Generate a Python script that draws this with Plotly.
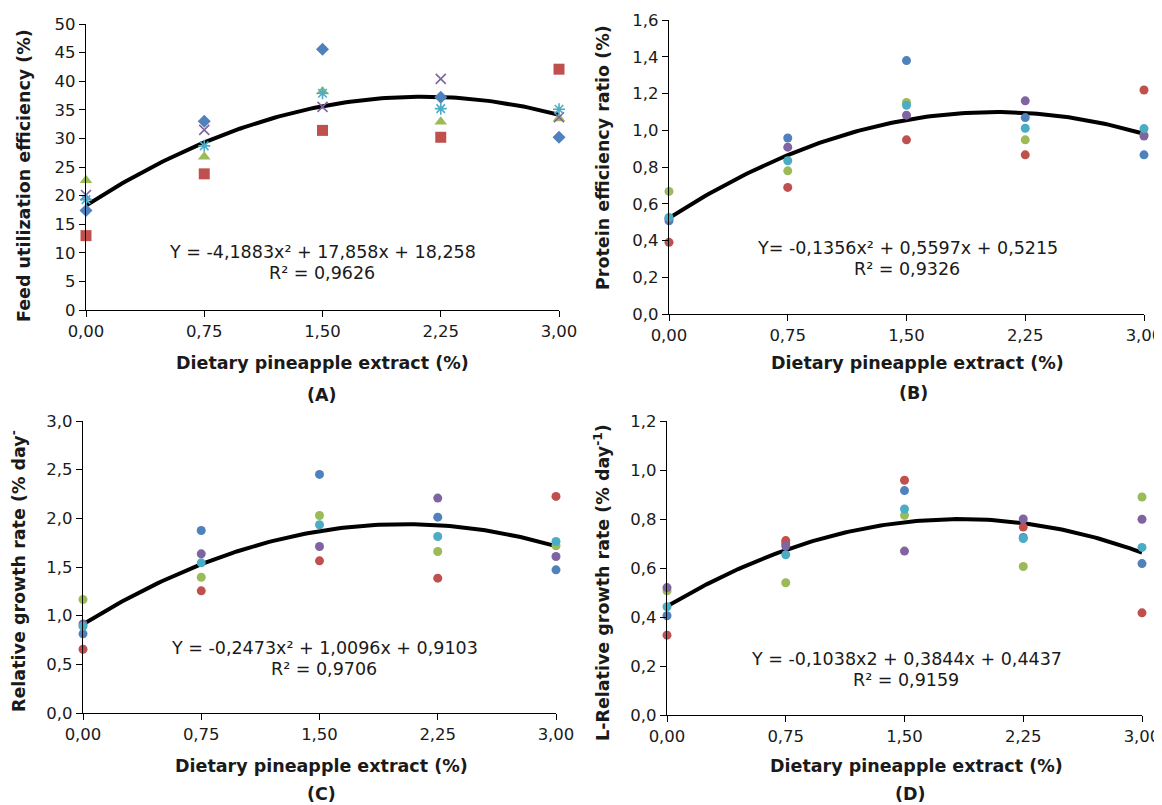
import numpy as np
import plotly.graph_objects as go

# page has an 8px body margin; the figure starts at (8, 8) in the window
PAGE_W, PAGE_H = 1162, 805
OFF = 8
W, H = PAGE_W - OFF, PAGE_H - OFF

x_levels = [0, 0.75, 1.5, 2.25, 3.0]
x_ticks = [0, 0.75, 1.5, 2.25, 3.0]
series_names = ["Rep 1", "Rep 2", "Rep 3", "Rep 4", "Rep 5"]
colors = ["#4F81BD", "#C0504D", "#9BBB59", "#8064A2", "#4BACC6"]

# Panel A: Feed utilization efficiency (%)
fue_blue = [17.4, 33.0, 45.6, 37.2, 30.2]
fue_red = [13.0, 23.8, 31.4, 30.2, 42.1]
fue_green = [22.7, 26.8, 38.2, 32.9, 33.5]
fue_purple = [20.1, 31.5, 35.5, 40.4, 33.7]
fue_cyan = [19.3, 28.7, 37.9, 35.2, 35.1]
fue_coef = [-4.1883, 17.858, 18.258]

# Panel B: Protein efficiency ratio
per_blue = [0.507, 0.958, 1.379, 1.069, 0.866]
per_red = [0.390, 0.689, 0.948, 0.866, 1.219]
per_green = [0.667, 0.779, 1.151, 0.948, 0.975]
per_purple = [0.520, 0.908, 1.082, 1.160, 0.969]
per_cyan = [0.525, 0.834, 1.136, 1.011, 1.009]
per_coef = [-0.1356, 0.5597, 0.5215]

# Panel C: Relative growth rate
rgr_blue = [0.813, 1.875, 2.451, 2.012, 1.471]
rgr_red = [0.655, 1.255, 1.563, 1.385, 2.225]
rgr_green = [1.166, 1.395, 2.029, 1.659, 1.718]
rgr_purple = [0.915, 1.635, 1.711, 2.208, 1.608]
rgr_cyan = [0.891, 1.543, 1.934, 1.813, 1.762]
rgr_coef = [-0.2473, 1.0096, 0.9103]

# Panel D: L-Relative growth rate
lrgr_blue = [0.405, 0.700, 0.916, 0.725, 0.618]
lrgr_red = [0.326, 0.712, 0.958, 0.767, 0.417]
lrgr_green = [0.507, 0.540, 0.815, 0.606, 0.890]
lrgr_purple = [0.520, 0.690, 0.669, 0.800, 0.799]
lrgr_cyan = [0.442, 0.654, 0.841, 0.720, 0.684]
lrgr_coef = [-0.1038, 0.3844, 0.4437]

def px_x(p):
    return (p - OFF) / W

def px_y(p):
    return 1 - (p - OFF) / H

panels = [
    dict(key="", series=[fue_blue, fue_red, fue_green, fue_purple, fue_cyan], coef=fue_coef,
         box=(86, 559, 24, 310), yrange=[0, 50], dtick=5, yfmt="d",
         ytitle="Feed utilization efficiency (%)", ytitle_pos=(24, 176),
         eq=["Y = -4,1883x² + 17,858x + 18,258", "R² = 0,9626"], eq_pos=(322, 252),
         xtitle_pos=(322, 363), label="(A)", label_pos=(322, 395),
         symbols=["diamond", "square", "triangle-up", "x-thin-open", "asterisk-open"],
         sizes=[10, 11, 11, 10, 10]),
    dict(key="2", series=[per_blue, per_red, per_green, per_purple, per_cyan], coef=per_coef,
         box=(669, 1144, 20, 314), yrange=[0, 1.6], dtick=0.2, yfmt=".1f",
         ytitle="Protein efficiency ratio (%)", ytitle_pos=(603, 158),
         eq=["Y= -0,1356x² + 0,5597x + 0,5215", "R² = 0,9326"], eq_pos=(907, 248),
         xtitle_pos=(917, 363), label="(B)", label_pos=(913, 393),
         symbols=["circle"] * 5, sizes=[9] * 5),
    dict(key="3", series=[rgr_blue, rgr_red, rgr_green, rgr_purple, rgr_cyan], coef=rgr_coef,
         box=(83, 556, 421, 713), yrange=[0, 3.0], dtick=0.5, yfmt=".1f",
         ytitle="Relative growth rate (% day<sup>-</sup>", ytitle_pos=(18, 571),
         eq=["Y = -0,2473x² + 1,0096x + 0,9103", "R² = 0,9706"], eq_pos=(324, 648),
         xtitle_pos=(321, 766), label="(C)", label_pos=(321, 794),
         symbols=["circle"] * 5, sizes=[9] * 5),
    dict(key="4", series=[lrgr_blue, lrgr_red, lrgr_green, lrgr_purple, lrgr_cyan], coef=lrgr_coef,
         box=(667, 1142, 421, 715), yrange=[0, 1.2], dtick=0.2, yfmt=".1f",
         ytitle="L-Relative growth rate (% day<sup>-1</sup>)", ytitle_pos=(602, 583),
         eq=["Y = -0,1038x2 + 0,3844x + 0,4437", "R² = 0,9159"], eq_pos=(906, 659),
         xtitle_pos=(916, 766), label="(D)", label_pos=(911, 794),
         symbols=["circle"] * 5, sizes=[9] * 5),
]

FONT = "DejaVu Sans"
TXT = "#1a1a1a"
TICK_SIZE = 16.5
TITLE_SIZE = 17.5
EQ_SIZE = 17.5

fig = go.Figure()
annotations = []
layout_axes = {}

def add_text(text, xp, yp, size, angle=0):
    annotations.append(dict(text=text, textangle=angle, x=px_x(xp), y=px_y(yp),
                            xref="paper", yref="paper", xanchor="center", yanchor="middle",
                            showarrow=False, font=dict(family=FONT, size=size, color=TXT)))

for p in panels:
    xa = "x" + p["key"]
    ya = "y" + p["key"]
    # trend line from the fitted equation shown on the chart
    xs = np.linspace(0, 3, 121)
    a, b, c = p["coef"]
    fig.add_trace(go.Scatter(x=xs, y=a * xs ** 2 + b * xs + c, mode="lines",
                             line=dict(color="black", width=4), xaxis=xa, yaxis=ya,
                             showlegend=False, hoverinfo="skip"))
    for i, vals in enumerate(p["series"]):
        sym = p["symbols"][i]
        is_open = sym.endswith("-open")
        fig.add_trace(go.Scatter(
            x=x_levels, y=vals, mode="markers", name=series_names[i],
            marker=dict(symbol=sym, size=p["sizes"][i], color=colors[i],
                        line=dict(width=1.6 if is_open else 0, color=colors[i])),
            xaxis=xa, yaxis=ya, showlegend=False, cliponaxis=False))
    x0, x1, y0, y1 = p["box"]
    layout_axes["xaxis" + p["key"]] = dict(
        domain=[px_x(x0), px_x(x1)], anchor=ya, range=[0, 3], tickvals=x_ticks,
        tickformat=".2f", showline=True, linecolor="black", linewidth=1.3,
        ticks="outside", ticklen=6, tickcolor="black", showgrid=False, zeroline=False,
        automargin=False, ticklabeloverflow="allow",
        tickfont=dict(family=FONT, size=TICK_SIZE, color=TXT), fixedrange=True)
    layout_axes["yaxis" + p["key"]] = dict(
        domain=[px_y(y1), px_y(y0)], anchor=xa, range=p["yrange"], dtick=p["dtick"],
        tick0=0, tickformat=p["yfmt"], showline=True, linecolor="black", linewidth=1.3,
        ticks="outside", ticklen=6, tickcolor="black", showgrid=False, zeroline=False,
        automargin=False, ticklabeloverflow="allow",
        tickfont=dict(family=FONT, size=TICK_SIZE, color=TXT), fixedrange=True)
    add_text("<b>" + p["ytitle"] + "</b>", p["ytitle_pos"][0], p["ytitle_pos"][1], TITLE_SIZE, angle=-90)
    add_text("<b>Dietary pineapple extract (%)</b>", p["xtitle_pos"][0], p["xtitle_pos"][1], TITLE_SIZE)
    add_text("<b>" + p["label"] + "</b>", p["label_pos"][0], p["label_pos"][1], TITLE_SIZE)
    ex, ey = p["eq_pos"]
    add_text(p["eq"][0], ex, ey, EQ_SIZE)
    add_text(p["eq"][1], ex, ey + 21, EQ_SIZE)

fig.update_layout(
    width=W, height=H, margin=dict(l=0, r=0, t=0, b=0, autoexpand=False),
    paper_bgcolor="white", plot_bgcolor="white", separators=", ",
    showlegend=False, annotations=annotations, **layout_axes)

fig.write_html("out.html")
